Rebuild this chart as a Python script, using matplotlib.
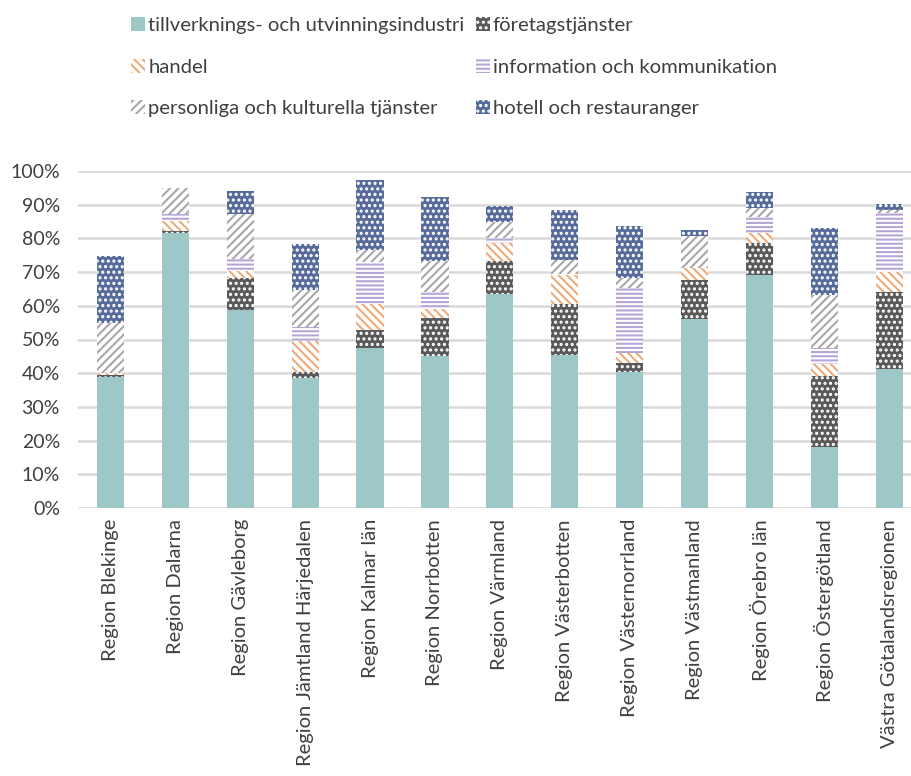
import matplotlib.pyplot as plt
import numpy as np

plt.rcParams['font.family'] = ['Lato', 'DejaVu Sans']
plt.rcParams['hatch.linewidth'] = 1.5

regions = ['Region Blekinge', 'Region Dalarna', 'Region Gävleborg',
           'Region Jämtland Härjedalen', 'Region Kalmar län', 'Region Norrbotten',
           'Region Värmland', 'Region Västerbotten', 'Region Västernorrland',
           'Region Västmanland', 'Region Örebro län', 'Region Östergötland',
           'Västra Götalandsregionen']

# andelar i procent
tillverkning = [38.8, 81.6, 58.8, 38.7, 47.6, 45.0, 63.4, 45.4, 40.3, 56.0, 69.2, 18.1, 41.1]
foretag = [0.7, 0.6, 9.5, 1.8, 5.3, 11.5, 10.0, 15.2, 2.6, 11.6, 9.3, 21.2, 23.1]
handel = [0.5, 2.9, 2.0, 9.2, 7.6, 2.5, 5.3, 8.5, 3.0, 3.5, 3.1, 3.4, 5.9]
information = [0.1, 2.0, 3.5, 4.1, 12.4, 5.2, 1.5, 0.3, 19.4, 0.0, 4.8, 4.9, 17.3]
personliga = [14.8, 7.9, 13.4, 10.9, 3.6, 9.1, 4.7, 4.3, 3.0, 9.7, 2.7, 15.5, 1.1]
hotell = [19.9, 0.0, 6.9, 13.5, 20.9, 19.1, 4.7, 14.7, 15.4, 1.6, 4.7, 20.1, 1.8]

series = [
    ('tillverknings- och utvinningsindustri', tillverkning,
     dict(color='#9ec8c7', linewidth=0)),
    ('företagstjänster', foretag,
     dict(facecolor='#595959', edgecolor='white', hatch='...', linewidth=0)),
    ('handel', handel,
     dict(facecolor='white', edgecolor='#eeaa78', hatch='\\\\\\\\', linewidth=0)),
    ('information och kommunikation', information,
     dict(facecolor='white', edgecolor='#b6a4d6', hatch='----', linewidth=0)),
    ('personliga och kulturella tjänster', personliga,
     dict(facecolor='white', edgecolor='#a8a8a8', hatch='////', linewidth=0)),
    ('hotell och restauranger', hotell,
     dict(facecolor='#566b99', edgecolor='white', hatch='...', linewidth=0)),
]

W, H = 912, 776
fig = plt.figure(figsize=(W / 100, H / 100), dpi=100)
ax = fig.add_axes([78 / W, (H - 508) / H, (912 - 78) / W, (508 - 171) / H])

x = np.arange(len(regions))
bottom = np.zeros(len(regions))
handles = []
for name, vals, style in series:
    v = np.array(vals) / 100
    b = ax.bar(x, v, 0.42, bottom=bottom, label=name, zorder=3, **style)
    handles.append(b)
    bottom += v

ax.set_ylim(0, 1.0)
ax.set_xlim(-0.5, 12.35)
ax.set_yticks(np.arange(0, 1.01, 0.1))
ax.set_yticklabels([f'{int(round(t * 100))}%' for t in np.arange(0, 1.01, 0.1)])
ax.set_xticks(x)
ax.set_xticklabels(regions, rotation=90, va='top', ha='center', fontsize=14.5)
ax.grid(axis='y', color='#d9d9d9', linewidth=1.8, zorder=0)
ax.set_axisbelow(True)
for s in ax.spines.values():
    s.set_visible(False)
ax.tick_params(axis='both', length=0, labelsize=14, colors='#404040')
ax.tick_params(axis='x', labelsize=14.5)
ax.tick_params(axis='y', pad=13)
ax.tick_params(axis='x', pad=8)

order = [0, 2, 4, 1, 3, 5]
fig.legend([handles[i] for i in order], [series[i][0] for i in order],
           ncol=2, loc='upper left', bbox_to_anchor=(127 / W, 1 - 13 / H),
           borderaxespad=0, borderpad=0.2,
           frameon=False, fontsize=14.6, handlelength=0.7, handleheight=0.7,
           handletextpad=0.15, columnspacing=0.55, labelspacing=1.2,
           labelcolor='#404040')

fig.savefig('out.png', dpi=100)
